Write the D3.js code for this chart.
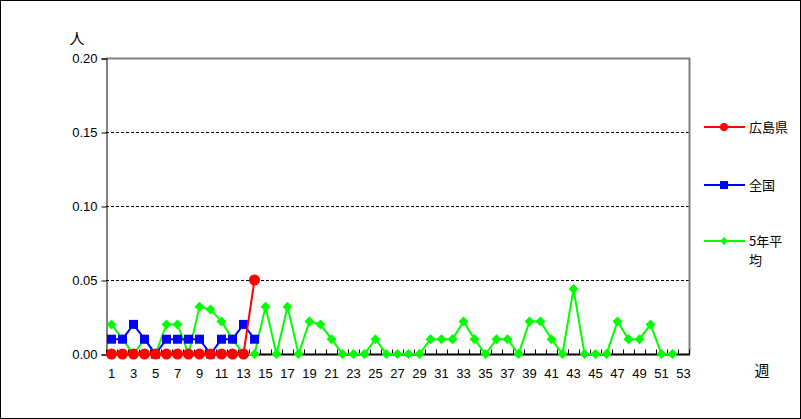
<!DOCTYPE html>
<html><head><meta charset="utf-8">
<script src="https://cdn.jsdelivr.net/npm/d3@7"></script>
<style>body{margin:0;background:#fff}svg{display:block}</style>
</head><body>
<script>
const weeks = d3.range(1, 54);
const xTickLabels = d3.range(1, 54, 2);
const yTicks = [0, 0.05, 0.10, 0.15, 0.20];
const hiroshima = [0,0,0,0,0,0,0,0,0,0,0,0,0,0.05];
const national = [0.01,0.01,0.02,0.01,0,0.01,0.01,0.01,0.01,0,0.01,0.01,0.02,0.01];
const avg5 = [0.02,0.01,0,0.01,0,0.02,0.02,0,0.032,0.030,0.022,0.01,0,0,0.032,0,0.032,0,0.022,0.02,0.01,0,0,0,0.01,0,0,0,0,0.01,0.01,0.01,0.022,0.01,0,0.01,0.01,0,0.022,0.022,0.01,0,0.044,0,0,0,0.022,0.01,0.01,0.02,0,0];
const seriesNames = ["広島県","全国","5年平均"];
const legendLines = [["広島県"],["全国"],["5年平","均"]];
const colors = ["#ff0000","#0000ff","#00ff00"];

const W = 801, H = 419;
const svg = d3.select("body").append("svg").attr("width", W).attr("height", H);
const font = "'Liberation Sans', 'Noto Sans CJK JP', sans-serif";
const cjk = "'Noto Sans CJK JP', sans-serif";
svg.append("rect").attr("x",0.5).attr("y",0.5).attr("width",W-1).attr("height",H-1).attr("fill","#fff").attr("stroke","#000");

const L = 106, R = 689, T = 58, B = 354;
const x = d3.scaleBand().domain(weeks).range([L, R]);
const y = d3.scaleLinear().domain([0, 0.2]).range([B, T]);
const cx = d => x(d) + x.bandwidth()/2;

// grid
svg.append("g").selectAll("line").data(yTicks.filter(v => v > 0 && v < 0.2)).join("line")
  .attr("x1", L).attr("x2", R).attr("y1", d => Math.round(y(d))+0.5).attr("y2", d => Math.round(y(d))+0.5)
  .attr("stroke","#000").attr("stroke-dasharray","3,2").attr("stroke-width",1);
// frame top/right gray
svg.append("path").attr("d", `M${L},${T+0.5}H${R+0.5}V${B}`).attr("fill","none").attr("stroke","#808080").attr("stroke-width",2);

// y axis
const yAxis = d3.axisLeft(y).tickValues(yTicks).tickFormat(d3.format(".2f")).tickSize(5).tickPadding(4);
const gy = svg.append("g").attr("transform", `translate(${L+0.5},0.5)`).call(yAxis);
gy.select(".domain").attr("stroke","#000");
gy.selectAll("text").attr("font-family", font).attr("font-size", 13).attr("fill","#000");
// x axis
const gx = svg.append("g").attr("transform", `translate(0,${B+0.5})`);
gx.append("line").attr("x1", L).attr("x2", R+1).attr("stroke","#000").attr("stroke-width",2);
gx.selectAll("line.t").data(d3.range(0, 54)).join("line").attr("class","t")
  .attr("x1", i => Math.round(L + i*x.bandwidth())+0.5).attr("x2", i => Math.round(L + i*x.bandwidth())+0.5)
  .attr("y1", 0).attr("y2", -5).attr("stroke","#000");
gx.selectAll("text").data(xTickLabels).join("text")
  .attr("x", d => cx(d)).attr("y", 23).attr("text-anchor","middle")
  .attr("font-family", font).attr("font-size", 13).text(d => d);

svg.append("text").attr("x", 77).attr("y", 44).attr("text-anchor","middle").attr("font-family", cjk).attr("font-size", 15).text("人");
svg.append("text").attr("x", 762).attr("y", 376).attr("text-anchor","middle").attr("font-family", cjk).attr("font-size", 15).text("週");

const line = d3.line().x((d,i) => cx(i+1)).y(d => y(d));
function drawSeries(data, color, kind) {
  const g = svg.append("g");
  g.append("path").datum(data).attr("d", line).attr("fill","none").attr("stroke", color).attr("stroke-width", 2);
  const pts = g.selectAll("g").data(data).join("g").attr("transform", (d,i) => `translate(${cx(i+1)},${y(d)})`);
  markers(pts, color, kind);
}
function markers(sel, color, kind) {
  if (kind === "circle") sel.append("circle").attr("r", 5.5).attr("fill", color);
  else if (kind === "square") sel.append("rect").attr("x",-4.5).attr("y",-4.5).attr("width",9).attr("height",9).attr("fill", color);
  else sel.append("path").attr("d","M0,-5L5,0L0,5L-5,0Z").attr("fill", color);
}
drawSeries(avg5, colors[2], "diamond");
drawSeries(national, colors[1], "square");
drawSeries(hiroshima, colors[0], "circle");

// legend
const legY = [127, 185, 241];
seriesNames.forEach((n, i) => {
  const g = svg.append("g").attr("transform", `translate(0,${legY[i]})`);
  g.append("line").attr("x1", 704).attr("x2", 745).attr("stroke", colors[i]).attr("stroke-width", 2);
  const m = g.append("g").attr("transform", "translate(724,0)");
  if (i === 0) m.append("circle").attr("r",4).attr("fill",colors[i]);
  else if (i === 1) m.append("rect").attr("x",-4).attr("y",-4).attr("width",8).attr("height",8).attr("fill",colors[i]);
  else m.append("path").attr("d","M0,-4L4,0L0,4L-4,0Z").attr("fill",colors[i]);
  legendLines[i].forEach((t, j) => {
    svg.append("text").attr("x", 749).attr("y", legY[i] + 5 + j*19)
      .attr("font-family", cjk).attr("font-size", 13).text(t);
  });
});
</script>
</body></html>
